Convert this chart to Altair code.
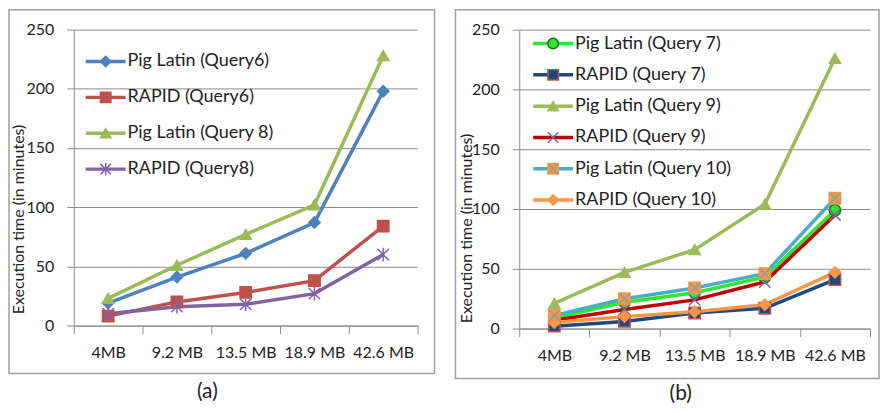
import altair as alt
import pandas as pd

sizes = ["4MB", "9.2 MB", "13.5 MB", "18.9 MB", "42.6 MB"]
y_ticks = [0, 50, 100, 150, 200, 250]

# Panel (a)
a_names = ["Pig Latin (Query6)", "RAPID (Query6)", "Pig Latin (Query 8)", "RAPID (Query8)"]
pig_q6 = [19, 41, 61, 87, 198]
rapid_q6 = [8, 20, 28, 38, 84]
pig_q8 = [23, 51, 77, 102, 228]
rapid_q8 = [10, 16, 18, 27, 60]
a_values = [pig_q6, rapid_q6, pig_q8, rapid_q8]

# Panel (b)
b_names = ["Pig Latin (Query 7)", "RAPID (Query 7)", "Pig Latin (Query 9)",
           "RAPID (Query 9)", "Pig Latin (Query 10)", "RAPID (Query 10)"]
pig_q7 = [9, 22, 30, 43, 99]
rapid_q7 = [2, 6, 13, 17, 41]
pig_q9 = [21, 47, 66, 104, 226]
rapid_q9 = [7, 16, 24, 39, 95]
pig_q10 = [11, 25, 34, 46, 109]
rapid_q10 = [5, 10, 14, 20, 47]
b_values = [pig_q7, rapid_q7, pig_q9, rapid_q9, pig_q10, rapid_q10]

X_PATH = "M-1,-1L1,1M-1,1L1,-1"
STAR_PATH = "M-1,-1L1,1M-1,1L1,-1M0,-1.2L0,1.2"

a_style = dict(
    line=["#4F81BD", "#C0504D", "#9BBB59", "#8064A2"],
    shape=["diamond", "square", "triangle-up", STAR_PATH],
    fill=["#4F81BD", "#C0504D", "#9BBB59", "transparent"],
    stroke=["#4F81BD", "#C0504D", "#9BBB59", "#8064A2"],
)
b_style = dict(
    line=["#2EE62E", "#1F497D", "#9BBB59", "#C00000", "#4BACC6", "#F79646"],
    shape=["circle", "square", "triangle-up", X_PATH, "square", "diamond"],
    fill=["#2EE62E", "#1F497D", "#9BBB59", "transparent", "#F79646", "#F79646"],
    stroke=["#1E6B1E", "#C0504D", "#9BBB59", "#8064A2", "#F79646", "#F79646"],
)

GRID = "#8c8c8c"
FONT = "Lato"


def panel(key, names, values, style, w, h, legend_range, legend_x, frame, label_pos,
          label, title_xy, overlay=None):
    f = "series_" + key
    rows = []
    for i, (n, vals) in enumerate(zip(names, values)):
        for s, v in zip(sizes, vals):
            rows.append({f: n, "size": s, "value": v, "k": i})
    df = pd.DataFrame(rows)
    leg = pd.DataFrame({f: names, "idx": list(range(len(names)))})

    xenc = alt.X("size:N", sort=sizes, bandPosition=0.5,
                 scale=alt.Scale(type="band", domain=sizes, paddingInner=0, paddingOuter=0),
                 axis=alt.Axis(title=None, labelAngle=0, tickBand="extent", grid=False,
                               tickColor=GRID, tickSize=8, domainColor=GRID,
                               labelFont=FONT, labelFontSize=16, labelColor="#222",
                               labelPadding=11))
    yscale = alt.Scale(domain=[0, 250], nice=False)
    yaxis = alt.Axis(values=y_ticks, grid=True, gridColor=GRID, gridWidth=1,
                     tickColor=GRID, tickSize=7, domainColor=GRID,
                     labelFont=FONT, labelFontSize=16, labelColor="#222", labelPadding=13,
                     title="Execution time (in minutes)", titleFont=FONT, titleFontSize=16,
                     titleFontWeight="normal", titleColor="#222",
                     titleX=title_xy[0], titleY=title_xy[1], titleAlign="center",
                     titleBaseline="middle", titleAngle=270)
    col = alt.Color(f + ":N", scale=alt.Scale(domain=names, range=style["line"]), legend=None)
    shp = alt.Shape(f + ":N", scale=alt.Scale(domain=names, range=style["shape"]), legend=None)
    fil = alt.Fill(f + ":N", scale=alt.Scale(domain=names, range=style["fill"]), legend=None)
    stk = alt.Stroke(f + ":N", scale=alt.Scale(domain=names, range=style["stroke"]), legend=None)

    base = alt.Chart(df)
    lines = base.mark_line(strokeWidth=3.5).encode(
        x=xenc, y=alt.Y("value:Q", scale=yscale, axis=yaxis), color=col, order="k:Q")
    pts = base.mark_point(size=130, strokeWidth=1.5, opacity=1, fillOpacity=1).encode(
        x=xenc, y=alt.Y("value:Q", scale=yscale, axis=None), shape=shp, fill=fil, stroke=stk)
    layers = [lines, pts]
    if overlay is not None:
        odf = df[df[f] == overlay]
        layers.append(alt.Chart(odf).mark_point(size=110, shape=X_PATH, stroke="#4BACC6",
                                                 strokeWidth=1.5).encode(
            x=xenc, y=alt.Y("value:Q", scale=yscale, axis=None)))

    ly = alt.Y("idx:O", scale=alt.Scale(type="point", domain=list(range(len(names))),
                                        range=legend_range, padding=0), axis=None)
    lb = alt.Chart(leg)
    leg_line = lb.mark_rule(strokeWidth=3.5).encode(
        x=alt.value(legend_x), x2=alt.value(legend_x + 40), y=ly, color=col)
    leg_pt = lb.mark_point(size=110, strokeWidth=1.5, opacity=1, fillOpacity=1).encode(
        x=alt.value(legend_x + 20), y=ly, shape=shp, fill=fil, stroke=stk)
    leg_txt = lb.mark_text(align="left", baseline="middle", font=FONT, fontSize=18,
                           color="#222").encode(
        x=alt.value(legend_x + 42), y=ly, text=f + ":N")
    layers += [leg_line, leg_pt]
    if overlay is not None:
        layers.append(alt.Chart(leg[leg[f] == overlay]).mark_point(
            size=90, shape=X_PATH, stroke="#4BACC6", strokeWidth=1.5).encode(
            x=alt.value(legend_x + 20), y=ly))
    layers.append(leg_txt)

    one = pd.DataFrame({"t": [label]})
    frame_mark = alt.Chart(one).mark_rect(fillOpacity=0, stroke="#a0a0a0", strokeWidth=1.5).encode(
        x=alt.value(frame[0]), x2=alt.value(frame[1]), y=alt.value(frame[2]), y2=alt.value(frame[3]))
    lab = alt.Chart(one).mark_text(font=FONT, fontSize=21, color="#222").encode(
        x=alt.value(label_pos[0]), y=alt.value(label_pos[1]), text="t:N")
    layers += [frame_mark, lab]

    return alt.layer(*layers).resolve_scale(y="independent").properties(width=w, height=h)


left = panel("a", a_names, a_values, a_style, 345, 297, [32, 140], 12,
             (-65, 362, -20, 345), (134, 364), "(a)", (-55, 190))
right = panel("b", b_names, b_values, b_style, 352, 300, [14, 171], 14,
              (-64, 361, -20, 350), (162, 366), "(b)", (-53, 199), overlay="Pig Latin (Query 10)")

chart = (alt.hconcat(left, right, spacing=19)
         .resolve_scale(color="independent", shape="independent", fill="independent",
                        stroke="independent")
         .properties(padding=0, background="white")
         .configure_view(stroke=None))

chart.save("out.html", embed_options={"renderer": "svg", "actions": False})
